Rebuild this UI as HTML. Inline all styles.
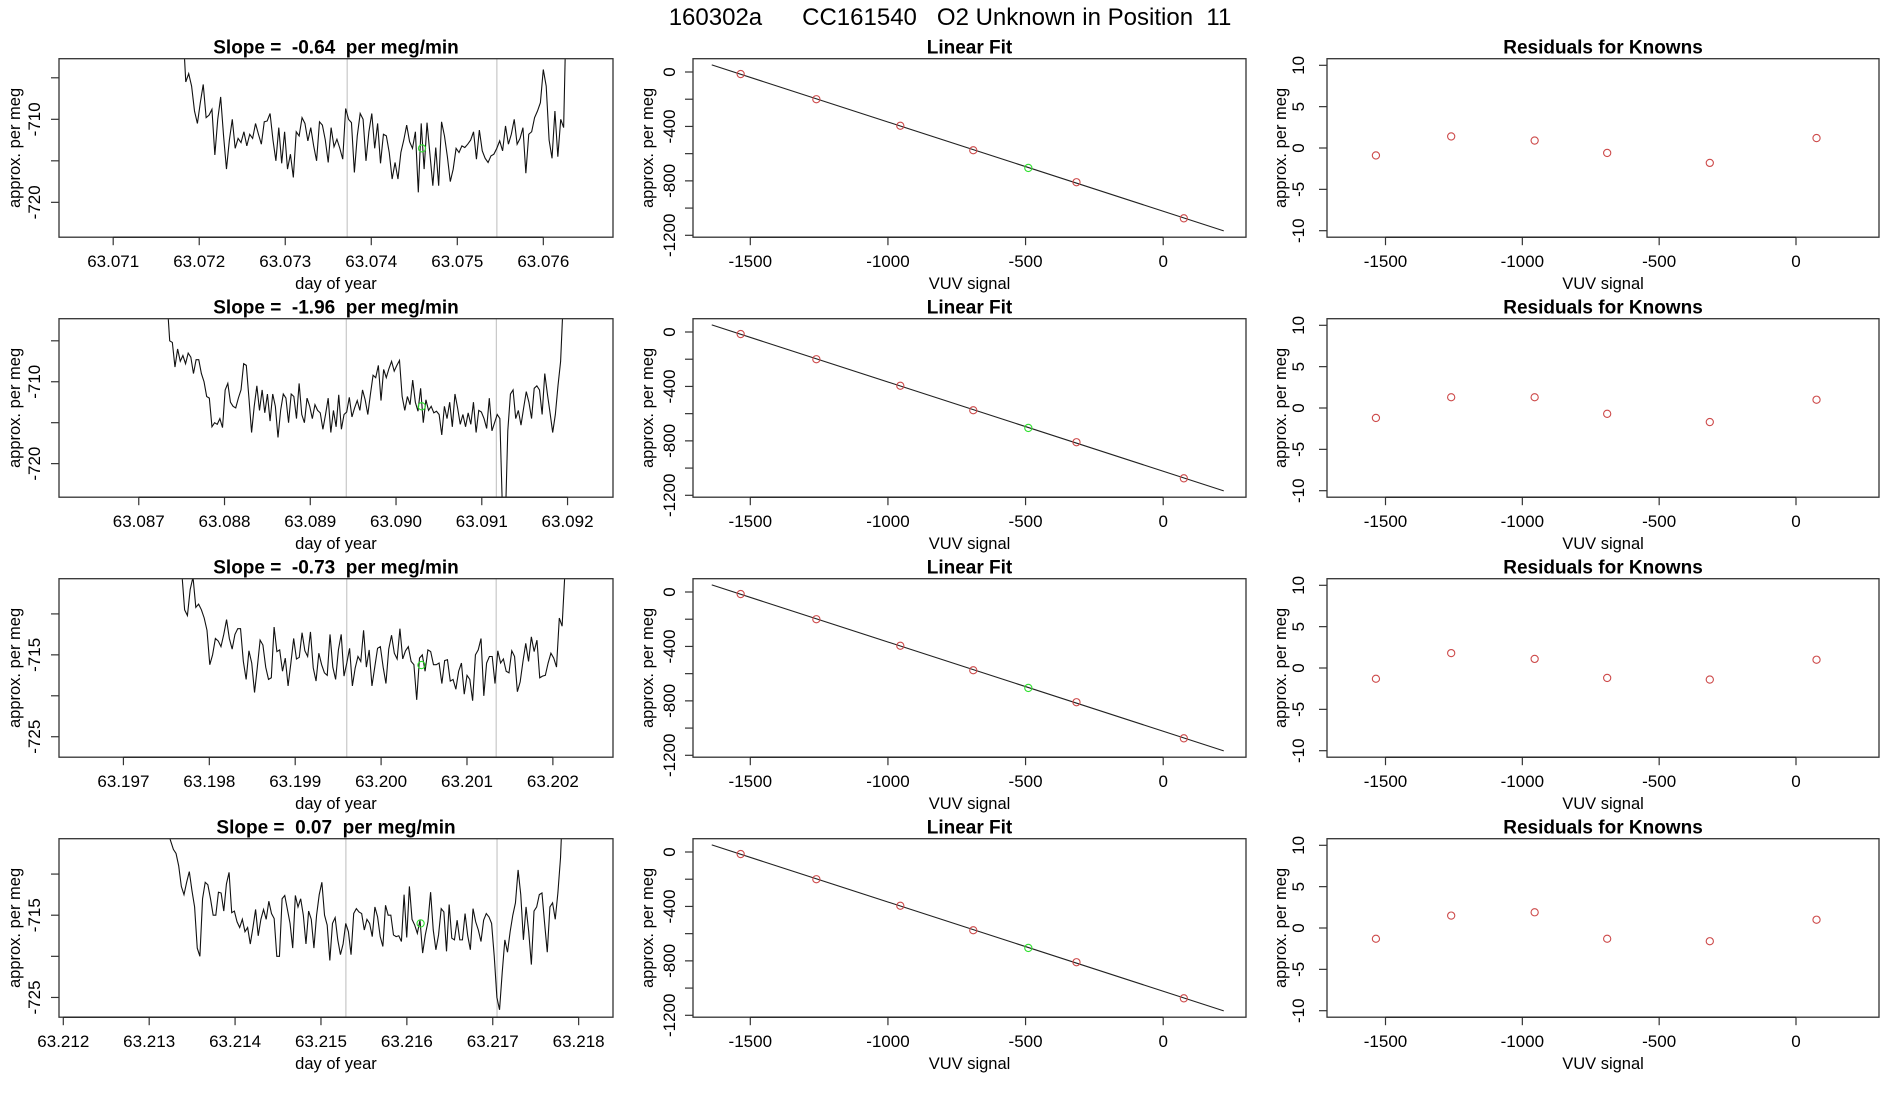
<!DOCTYPE html>
<html><head><meta charset="utf-8"><style>
html,body{margin:0;padding:0;background:#fff;}
svg{display:block;font-family:"Liberation Sans",Arial,sans-serif;}
text{white-space:pre;}
</style></head><body>
<svg id="fig" width="1900" height="1100" viewBox="0 0 1900 1100" xmlns="http://www.w3.org/2000/svg">
<text x="950" y="25" font-size="24" text-anchor="middle" fill="#000">160302a      CC161540   O2 Unknown in Position  11</text>
</svg>
<script>
// ---------- data ----------
const slopeLabels = ["-0.64", "-1.96", "-0.73", "0.07"];
const tStart = [63.07181, 63.08733, 63.19768, 63.21322];
const tEnd = [63.07627, 63.09195, 63.20214, 63.21782];
const grayLinesA = [63.07372, 63.08942, 63.19960, 63.21529];
const grayLinesB = [63.07546, 63.09117, 63.20134, 63.21705];
const greenT = [63.07459, 63.09030, 63.20047, 63.21616];
const greenV = [-713.5, -713.0, -716.25, -716.0];
const xTicksRow = [
  ["63.071","63.072","63.073","63.074","63.075","63.076"],
  ["63.087","63.088","63.089","63.090","63.091","63.092"],
  ["63.197","63.198","63.199","63.200","63.201","63.202"],
  ["63.212","63.213","63.214","63.215","63.216","63.217","63.218"]
];
const yTicksRow = [[-705,-710,-715,-720],[-705,-710,-715,-720],[-710,-715,-720,-725],[-710,-715,-720,-725]];
const yTickLabelsRow = [[-710,-720],[-710,-720],[-715,-725],[-715,-725]];
const series1 = [-699,-705.5,-704.5,-706,-709,-710.5,-708,-705.8,-709.8,-709.5,-708.8,-714.3,-710,-707.3,-712,-716,-712.5,-710,-713.5,-712.3,-712.8,-711.5,-713.2,-711.8,-712.3,-710.5,-711.8,-713,-710.3,-710.2,-709.3,-712.5,-715,-711,-715.3,-711.5,-716,-714.2,-717,-711.5,-712,-709.8,-710.5,-712.6,-711,-713.2,-715,-710.3,-710.7,-712.5,-715.2,-711,-713.3,-712.4,-713.5,-714.8,-708.7,-710,-710.4,-716.4,-712,-709.3,-710,-715,-711.5,-709.3,-713.5,-710.5,-715.3,-711.8,-712,-714,-717.2,-715.2,-717.2,-714,-712.5,-710.7,-712.7,-713.5,-711.5,-718.8,-710.5,-716,-710.4,-714.2,-718,-713.4,-718,-710.3,-712,-714.5,-717.5,-716,-713.5,-714,-713.2,-713.4,-713,-712.5,-711.5,-714.8,-711.3,-713.8,-714.7,-715.2,-714.4,-714.2,-713.5,-712.6,-713.8,-710.8,-713,-711.8,-710,-713,-712.3,-711,-716.5,-711.8,-711.5,-709.8,-709,-708,-704,-706,-712.5,-714.7,-709,-714.5,-710,-711,-695];
const series2 = [-700,-705,-705.2,-708.2,-706,-707.5,-706.8,-707.8,-706.5,-707,-709,-707.3,-707.3,-709,-710,-711.8,-712,-715.5,-715,-715.2,-714.5,-715.6,-711,-710.2,-712.5,-713,-713.2,-712,-711,-707.8,-708,-712,-716.2,-713,-710.5,-713.5,-711,-713.8,-711.5,-714.8,-711.5,-713,-716.8,-713.5,-711.5,-712,-715,-711.5,-711.8,-714.5,-710.2,-714,-715,-712,-713,-714.5,-712.8,-713.5,-713.8,-715.8,-714,-712,-716.2,-713.5,-715.5,-711.6,-715.8,-714,-713.7,-711.9,-714.3,-713.2,-712.3,-713.5,-711,-712.2,-714,-711.5,-709.2,-709.5,-708,-712.3,-708.5,-709.5,-708.4,-707.5,-708.7,-708,-707.4,-711.8,-713.5,-711.8,-712.8,-709.8,-712.5,-713.6,-710.8,-715,-712.2,-713.5,-713,-713.8,-713.6,-714,-716.5,-713,-714.5,-712.5,-715.5,-711.5,-713.2,-715.2,-714,-715.5,-713.8,-715.2,-712.5,-716.2,-713.5,-713.7,-714.5,-715.7,-712,-716,-715,-714,-714.5,-726,-728,-716,-711.5,-711,-714.5,-713.5,-715.3,-713.2,-711.2,-712.5,-714.5,-710.8,-710.5,-711,-714,-709,-711.5,-713.8,-716.2,-714,-710.5,-707.5,-700];
const series3 = [-705,-709.5,-710.2,-707,-705.5,-709.2,-708.8,-709.5,-710.5,-712,-716.2,-715,-713,-713.3,-714,-712.5,-710.7,-713,-714.3,-712.5,-711.8,-711.8,-715.8,-718,-714.5,-716,-719.6,-716.5,-713.2,-713.8,-716.5,-718,-717.8,-711.6,-714.6,-714.4,-717,-715.4,-718.8,-716,-713,-715.5,-715.3,-712.3,-714.5,-715.2,-712.2,-716.6,-718.2,-714.8,-716.2,-717.2,-717.5,-712.5,-716.5,-718,-714.4,-712.5,-717.6,-716,-714.2,-718.8,-716.6,-715.2,-715.8,-712,-716.5,-714.4,-718.8,-716.5,-714.2,-714,-716.5,-718.5,-714.3,-712.6,-714.8,-715.5,-711.8,-715.5,-714.5,-714,-715.8,-716.2,-720.5,-715.4,-715,-717,-714.4,-714.6,-716.2,-716.2,-716,-718.5,-715.7,-715.6,-718.2,-718,-719.2,-717,-716,-719.8,-717.5,-718,-720.6,-715,-714.4,-713,-720,-716,-715.2,-715.2,-718.5,-714.5,-716,-715.5,-717,-717.2,-714.5,-715.2,-719.5,-718.3,-715.8,-713.6,-715.8,-712.8,-714.6,-713.2,-717.8,-717.6,-717.5,-716,-714.8,-715.4,-716.5,-710.5,-711.5,-705];
const series4 = [-705,-706,-707,-707.5,-709,-711.5,-712.5,-711,-709.7,-712,-714,-719,-720,-713,-711,-711.3,-713,-715,-715,-712.2,-712.3,-714.5,-711.2,-709.8,-714.7,-714.5,-715.8,-716.5,-715.5,-717,-716.5,-718.5,-716.5,-714.3,-717.5,-715.5,-714.3,-715.5,-713.3,-714.8,-715.4,-720,-720,-713,-712.6,-714.3,-716,-719,-712.6,-714,-713,-715,-718.5,-714.5,-715.5,-719,-715,-712.5,-711,-715,-716.2,-720.5,-716,-715.3,-718,-719.8,-718.5,-716,-717,-719.8,-714.8,-714.2,-714.6,-714.8,-716.8,-715.5,-716,-717.6,-714,-715.2,-717.6,-718.8,-713.8,-715,-715,-717.4,-717.6,-717.5,-718.2,-712.5,-717.7,-711.5,-715.5,-716.2,-717.2,-715.6,-719.6,-717.4,-715.8,-712.2,-716.8,-719.2,-717.4,-714.2,-714.6,-719.4,-713.7,-717.8,-718,-715.6,-718,-718,-714.8,-717.5,-719.2,-714.2,-715.8,-716.8,-718.2,-715.6,-714.8,-715.2,-716,-720,-725,-726.5,-722,-718,-719.5,-717,-715,-713.5,-709.5,-712.5,-718,-714,-717,-721,-714.5,-714,-712.5,-712.3,-716,-719.5,-714,-713.5,-715.5,-712.3,-708,-700];
const knownX = [-1535, -1260, -955, -690, -315, 75];
const knownY = [-15, -200, -395, -575, -810, -1075];
const unknownX = [-490];
const unknownY = [-705];
const resid1 = [-0.9, 1.4, 0.9, -0.6, -1.8, 1.2];
const resid2 = [-1.2, 1.3, 1.3, -0.7, -1.7, 1.0];
const resid3 = [-1.3, 1.8, 1.1, -1.2, -1.4, 1.0];
const resid4 = [-1.3, 1.5, 1.9, -1.3, -1.6, 1.0];
const fitYTicks = [0, -200, -400, -600, -800, -1000, -1200];
const fitYLabels = [0, -400, -800, -1200];
const vuvTicks = [-1500, -1000, -500, 0];
const residTicks = [-10, -5, 0, 5, 10];

// ---------- layout (not data) ----------
const NS = "http://www.w3.org/2000/svg";
const svg = document.getElementById('fig');
const allSeries = [series1, series2, series3, series4];
const allResid = [resid1, resid2, resid3, resid4];
const tDomain = [[63.07037, 63.07681], [63.08607, 63.09253], [63.19625, 63.20270], [63.21195, 63.21840]];
const vDomain = [[-724.2, -702.7], [-724.1, -702.3], [-727.5, -705.7], [-727.4, -705.7]];
const cols = [{l: 59, r: 613, ylab: 14, ytick: 34}, {l: 693, r: 1246, ylab: 647, ytick: 669}, {l: 1327, r: 1879, ylab: 1280, ytick: 1298}];

function mk(tag, attrs, parent) {
  const e = document.createElementNS(NS, tag);
  for (const k in attrs) e.setAttribute(k, attrs[k]);
  (parent || svg).appendChild(e);
  return e;
}
function txt(str, x, y, size, parent, anchor, weight, rot) {
  const e = mk('text', {x: x, y: y, 'font-size': size, 'text-anchor': anchor || 'middle', fill: '#000'}, parent);
  if (weight) e.setAttribute('font-weight', weight);
  if (rot) e.setAttribute('transform', 'rotate(-90 ' + x + ' ' + y + ')');
  e.textContent = str;
  return e;
}
function lin(d0, d1, r0, r1) { return v => r0 + (v - d0) / (d1 - d0) * (r1 - r0); }

for (let r = 0; r < 4; r++) {
  const top = 58.7 + 260 * r, bot = top + 178.5;

  // ---- column 1: time series ----
  {
    const c = cols[0];
    const g = mk('g', {});
    
    
    const xs = lin(tDomain[r][0], tDomain[r][1], c.l, c.r);
    const ys = lin(vDomain[r][0], vDomain[r][1], bot, top);
    const clipId = 'clip' + r;
    const cp = mk('clipPath', {id: clipId}, g);
    mk('rect', {x: c.l, y: top, width: c.r - c.l, height: bot - top}, cp);
    [grayLinesA[r], grayLinesB[r]].forEach((t, i) => {
      const gl = mk('line', {x1: xs(t), x2: xs(t), y1: top, y2: bot, stroke: '#c8c8c8', 'stroke-width': 1.2}, g);
      
      
    });
    const s = allSeries[r];
    const n = s.length;
    let d = '';
    for (let i = 0; i < n; i++) {
      const t = tStart[r] + (tEnd[r] - tStart[r]) * i / (n - 1);
      d += (i ? 'L' : 'M') + xs(t).toFixed(2) + ' ' + ys(s[i]).toFixed(2);
    }
    const p = mk('path', {d: d, fill: 'none', stroke: '#111', 'stroke-width': 1.1, 'clip-path': 'url(#' + clipId + ')'}, g);
    
    
    const gp = mk('circle', {cx: xs(greenT[r]), cy: ys(greenV[r]), r: 3.6, fill: 'none', stroke: '#2fe02f', 'stroke-width': 1.1}, g);
    
    
    const bx = mk('rect', {x: c.l, y: top, width: c.r - c.l, height: bot - top, fill: 'none', stroke: '#333', 'stroke-width': 1.3}, g);
    
    
    const ticks = xTicksRow[r];
    ticks.forEach(tl => {
      const x = xs(parseFloat(tl));
      mk('line', {x1: x, x2: x, y1: bot, y2: bot + 8, stroke: '#333', 'stroke-width': 1.2}, g);
      const t = txt(tl, x, bot + 30, 17, g);
      
      
    });
    mk('line', {x1: xs(parseFloat(ticks[0])), x2: xs(parseFloat(ticks[ticks.length - 1])), y1: bot, y2: bot, stroke: '#222', 'stroke-width': 1.4}, g);
    yTicksRow[r].forEach(v => {
      mk('line', {x1: c.l - 8, x2: c.l, y1: ys(v), y2: ys(v), stroke: '#333', 'stroke-width': 1.2}, g);
    });
    yTickLabelsRow[r].forEach(v => {
      const t = txt(String(v), c.ytick + 6, ys(v), 17, g, 'middle', null, true);
      
      
    });
    const xt = txt('day of year', (c.l + c.r) / 2, bot + 52, 16.5, g);
    
    
    const yt = txt('approx. per meg', c.ylab + 6, (top + bot) / 2, 16.5, g, 'middle', null, true);
    
    
    const tt = txt('Slope =  ' + slopeLabels[r] + '  per meg/min', (c.l + c.r) / 2, top - 5, 19, g, 'middle', 'bold');
    
    
  }

  // ---- column 2: linear fit ----
  {
    const c = cols[1];
    const g = mk('g', {});
    
    
    const xs = lin(-1500, 0, 750.3, 1163.2);
    const ys = lin(0, -1200, top + 13.3, top + 176.6);
    const n = knownX.length;
    const mx = knownX.reduce((a, b) => a + b, 0) / n, my = knownY.reduce((a, b) => a + b, 0) / n;
    let sxy = 0, sxx = 0;
    for (let i = 0; i < n; i++) { sxy += (knownX[i] - mx) * (knownY[i] - my); sxx += (knownX[i] - mx) ** 2; }
    const b = sxy / sxx, a = my - b * mx;
    const fl = mk('line', {x1: xs(-1640), y1: ys(a + b * -1640), x2: xs(220), y2: ys(a + b * 220), stroke: '#222', 'stroke-width': 1.1}, g);
    
    
    for (let i = 0; i < n; i++) {
      const pt = mk('circle', {cx: xs(knownX[i]), cy: ys(knownY[i]), r: 3.6, fill: 'none', stroke: '#cd4a4a', 'stroke-width': 1.1}, g);
      
      
    }
    for (let i = 0; i < unknownX.length; i++) {
      const pt = mk('circle', {cx: xs(unknownX[i]), cy: ys(unknownY[i]), r: 3.6, fill: 'none', stroke: '#2fe02f', 'stroke-width': 1.1}, g);
      
      
    }
    const bx = mk('rect', {x: c.l, y: top, width: c.r - c.l, height: bot - top, fill: 'none', stroke: '#333', 'stroke-width': 1.3}, g);
    
    
    vuvTicks.forEach(v => {
      mk('line', {x1: xs(v), x2: xs(v), y1: bot, y2: bot + 8, stroke: '#333', 'stroke-width': 1.2}, g);
      const t = txt(String(v), xs(v), bot + 30, 17, g);
      
      
    });
    mk('line', {x1: xs(-1500), x2: xs(0), y1: bot, y2: bot, stroke: '#222', 'stroke-width': 1.4}, g);
    fitYTicks.forEach(v => mk('line', {x1: c.l - 8, x2: c.l, y1: ys(v), y2: ys(v), stroke: '#333', 'stroke-width': 1.2}, g));
    fitYLabels.forEach(v => {
      const t = txt(String(v), c.ytick + 6, ys(v), 17, g, 'middle', null, true);
      
      
    });
    const xt = txt('VUV signal', (c.l + c.r) / 2, bot + 52, 16.5, g);
    
    
    const yt = txt('approx. per meg', c.ylab + 6, (top + bot) / 2, 16.5, g, 'middle', null, true);
    
    
    const tt = txt('Linear Fit', (c.l + c.r) / 2, top - 5, 19, g, 'middle', 'bold');
    
    
  }

  // ---- column 3: residuals ----
  {
    const c = cols[2];
    const g = mk('g', {});
    
    
    const xs = lin(-1500, 0, 1385.5, 1796);
    const ys = lin(10, -10, top + 6.6, top + 172);
    const res = allResid[r];
    for (let i = 0; i < res.length; i++) {
      const pt = mk('circle', {cx: xs(knownX[i]), cy: ys(res[i]), r: 3.6, fill: 'none', stroke: '#cd4a4a', 'stroke-width': 1.1}, g);
      
      
    }
    const bx = mk('rect', {x: c.l, y: top, width: c.r - c.l, height: bot - top, fill: 'none', stroke: '#333', 'stroke-width': 1.3}, g);
    
    
    vuvTicks.forEach(v => {
      mk('line', {x1: xs(v), x2: xs(v), y1: bot, y2: bot + 8, stroke: '#333', 'stroke-width': 1.2}, g);
      const t = txt(String(v), xs(v), bot + 30, 17, g);
      
      
    });
    mk('line', {x1: xs(-1500), x2: xs(0), y1: bot, y2: bot, stroke: '#222', 'stroke-width': 1.4}, g);
    residTicks.forEach(v => {
      mk('line', {x1: c.l - 8, x2: c.l, y1: ys(v), y2: ys(v), stroke: '#333', 'stroke-width': 1.2}, g);
      const t = txt(String(v), c.ytick + 6, ys(v), 17, g, 'middle', null, true);
      
      
    });
    const xt = txt('VUV signal', (c.l + c.r) / 2, bot + 52, 16.5, g);
    
    
    const yt = txt('approx. per meg', c.ylab + 6, (top + bot) / 2, 16.5, g, 'middle', null, true);
    
    
    const tt = txt('Residuals for Knowns', (c.l + c.r) / 2, top - 5, 19, g, 'middle', 'bold');
    
    
  }
}
</script>
</body></html>
